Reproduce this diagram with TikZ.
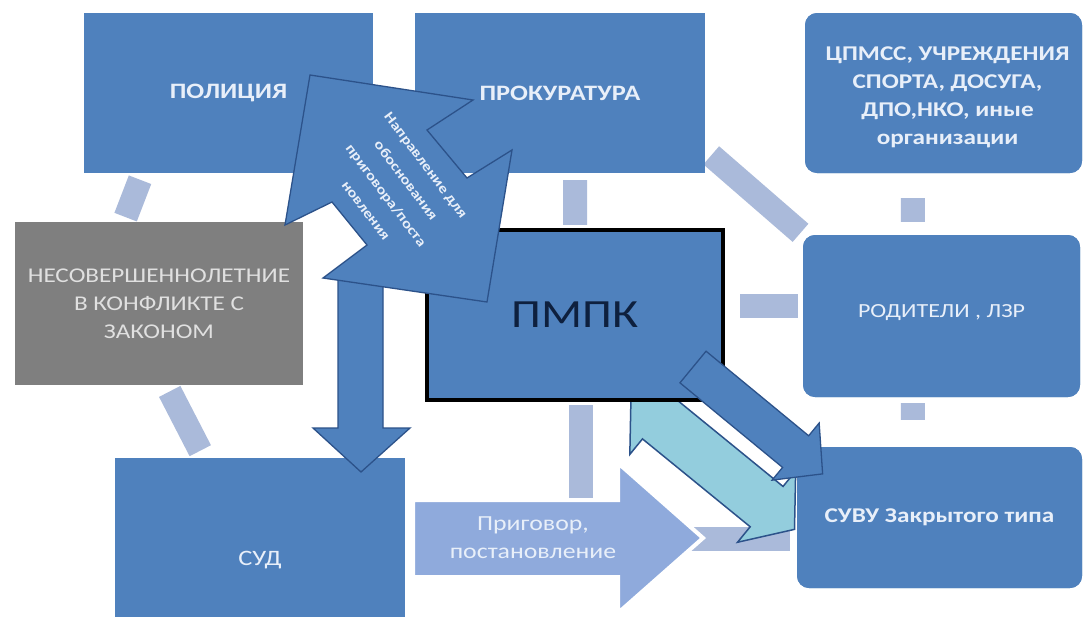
\documentclass[tikz,border=0pt]{standalone}
\usepackage{fontspec}
\newfontfamily\cf[FakeStretch=1.2]{Carlito}
\usetikzlibrary{calc}
\definecolor{boxblue}{RGB}{79,129,189}
\definecolor{barc}{RGB}{170,186,218}
\definecolor{grayb}{RGB}{127,127,127}
\definecolor{lightc}{RGB}{147,205,221}
\definecolor{prigc}{RGB}{143,170,220}
\definecolor{edgec}{RGB}{44,82,138}
\definecolor{txtl}{RGB}{232,239,249}
\definecolor{navy}{RGB}{14,32,62}
\begin{document}
\begin{tikzpicture}[x=1pt,y=-1pt,
  box/.style={fill=boxblue, inner sep=0pt},
  rbox/.style={box, rounded corners=12pt},
  tb/.style={text=txtl, align=center, font=\cf\bfseries\fontsize{22}{28}\selectfont},
  tr/.style={text=txtl, align=center, font=\cf\fontsize{21}{28}\selectfont},
  bar/.style={draw=barc, line width=24pt},
  blockarrow/.style={fill=boxblue, draw=edgec, line width=1.3pt, line join=miter}]
\useasboundingbox (0,0) rectangle (1084,616);
\clip (0,0) rectangle (1084,616);
\fill[white] (0,0) rectangle (1084,616);

% boxes (positions)
\node[box, minimum width=289pt, minimum height=160pt] (pol) at (228.5,93) {};
\node[box, minimum width=290pt, minimum height=160pt] (pro) at (560,93) {};
\node[rbox, minimum width=277pt, minimum height=160pt] (cpm) at (943.5,93) {};
\node[fill=grayb, inner sep=0pt, minimum width=288pt, minimum height=163pt] (nes) at (159,303.5) {};
\node[rbox, minimum width=277pt, minimum height=162pt] (rod) at (941.5,316) {};
\node[box, minimum width=290pt, minimum height=204pt] (sud) at (260,560) {};
\node[rbox, minimum width=285pt, minimum height=141pt] (suvu) at (939.5,517.5) {};
\node[inner sep=0pt, minimum width=296pt, minimum height=170pt] (pmpk) at (575,315) {};

% connectors
\draw[bar, shorten <=7pt, shorten >=5pt] ($(pol.south west)!0.203!(pol.south east)$) -- ($(nes.north west)!0.378!(nes.north east)$);
\draw[bar, shorten <=7pt, shorten >=8pt] ($(nes.south west)!0.526!(nes.south east)$) -- ($(sud.north west)!0.307!(sud.north east)$);
\draw[bar, shorten <=7pt, shorten >=5pt] ($(pro.south west)!0.552!(pro.south east)$) -- (pmpk.north);
\draw[bar, shorten <=8pt, shorten >=3pt] ($(pro.north east)!0.856!(pro.south east)$) -- (rod.north west);
\draw[bar, shorten <=17pt, shorten >=5pt] ($(pmpk.east)+(0,-9)$) -- ($(rod.west)+(0,-10)$);
\draw[bar, shorten <=25pt, shorten >=13pt] ($(cpm.south west)!0.39!(cpm.south east)$) -- ($(rod.north west)!0.397!(rod.north east)$);
\draw[bar, shorten <=6pt, shorten >=27pt] ($(rod.south west)!0.397!(rod.south east)$) -- ($(suvu.north west)!0.407!(suvu.north east)$);
\draw[bar, shorten <=5pt, shorten >=7pt] ($(pmpk.south west)!0.52!(pmpk.south east)$) |- ($(suvu.west)+(0,21)$);

% boxes drawn over connectors
\node[box, minimum width=289pt, minimum height=160pt] at (pol) {};
\node[box, minimum width=290pt, minimum height=160pt] at (pro) {};
\node[rbox, minimum width=277pt, minimum height=160pt] at (cpm) {};
\node[fill=grayb, inner sep=0pt, minimum width=288pt, minimum height=163pt] at (nes) {};
\node[rbox, minimum width=277pt, minimum height=162pt] at (rod) {};
\node[box, minimum width=290pt, minimum height=204pt] at (sud) {};
\node[rbox, minimum width=285pt, minimum height=141pt] at (suvu) {};

\node[tb] (tpol) at (pol) {ПОЛИЦИЯ};
\node[tb] (tpro) at (pro) {ПРОКУРАТУРА};
\node[tb, font=\cf\bfseries\fontsize{21}{28}\selectfont] (tcpm) at ($(cpm)+(4,4)$) {ЦПМСС, УЧРЕЖДЕНИЯ\\СПОРТА, ДОСУГА,\\ДПО,НКО, иные\\организации};
\node[tr, text=white!88!black] (tnes) at (nes) {НЕСОВЕРШЕННОЛЕТНИЕ\\В КОНФЛИКТЕ С\\ЗАКОНОМ};
\node[tr, font=\cf\fontsize{20}{28}\selectfont] (trod) at ($(rod)+(0,-3)$) {РОДИТЕЛИ , ЛЗР};
\node[tr, font=\cf\fontsize{22}{28}\selectfont] (tsud) at (sud) {СУД};
\node[tb, font=\cf\bfseries\fontsize{21}{28}\selectfont] (tsuvu) at (suvu) {СУВУ Закрытого типа};

% light double arrow (behind ПМПК)
\begin{scope}[shift={(631,396)}, rotate=-39.2]
\filldraw[fill=lightc, draw=edgec, line width=1.5pt, line join=miter]
  (0,0) -- (36,-46) -- (36,-26) -- (175,-26) -- (175,-46) -- (211,0) -- (175,46) -- (175,26) -- (36,26) -- (36,46) -- cycle;
\end{scope}

% ПМПК
\node[fill=boxblue, draw=black, line width=4pt, inner sep=0pt, minimum width=296pt, minimum height=170pt,
      text=navy, font=\cf\fontsize{40}{48}\selectfont] at (pmpk) {ПМПК};

% vertical arrow to СУД
\filldraw[blockarrow] (338,277) -- (383,277) -- (383,428) -- (410,428) -- (361,472) -- (313,428) -- (338,428) -- cycle;

% big bent arrow
\filldraw[blockarrow] (310,75) -- (473,100) -- (427,130) -- (467,178) -- (512,150) -- (487,302)
  -- (323,278) -- (367,245) -- (332,202) -- (285,225) -- cycle;
\node[text=txtl, align=center, rotate=-53, font=\cf\bfseries\fontsize{14}{25}\selectfont] (tnapr) at (396,188)
  {Направление для\\обоснования\\приговора/поста\\новления};

% dark arrow to СУВУ
\begin{scope}[shift={(693,367)}, rotate=-39.5]
\filldraw[blockarrow] (0,-20.5) -- (133,-20.5) -- (133,-37) -- (168,0) -- (133,37) -- (133,20.5) -- (0,20.5) -- cycle;
\end{scope}

% Приговор arrow
\filldraw[fill=prigc, draw=white, line width=4pt, line join=miter]
  (413,500) -- (618,500) -- (618,463) -- (703,538) -- (618,613) -- (618,577) -- (413,577) -- cycle;
\node[tr, font=\cf\fontsize{21.5}{28}\selectfont] (tprig) at (533,538) {Приговор,\\постановление};
\end{tikzpicture}
\end{document}
